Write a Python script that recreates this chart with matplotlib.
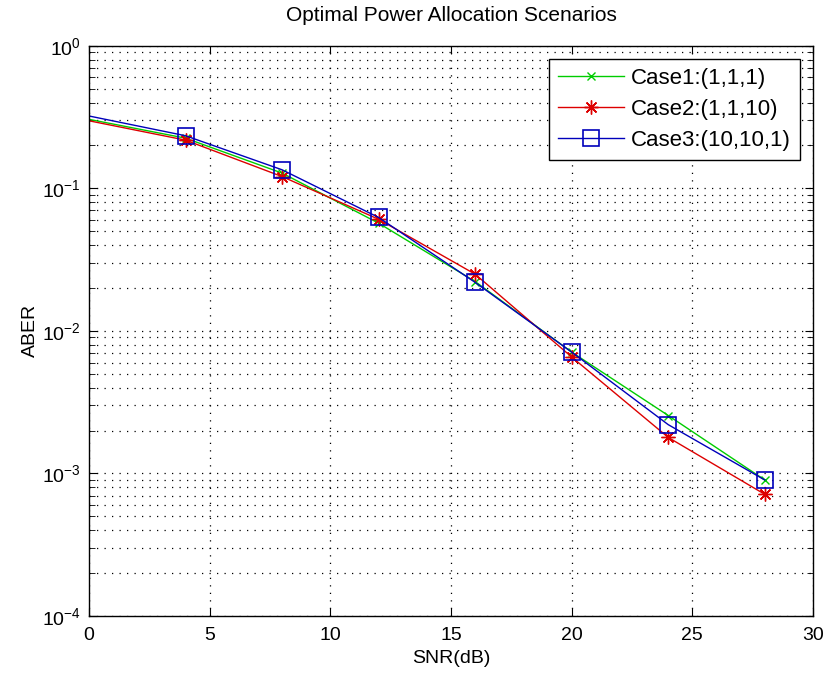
import matplotlib
matplotlib.use("Agg")
import matplotlib.pyplot as plt
from matplotlib.ticker import LogLocator, MultipleLocator, NullFormatter

plt.rcParams['font.family'] = ['Liberation Sans', 'DejaVu Sans']
plt.rcParams['mathtext.fontset'] = 'custom'
plt.rcParams['mathtext.rm'] = 'Liberation Sans'

snr_db = [0, 4, 8, 12, 16, 20, 24, 28]
case1 = [0.305, 0.225, 0.128, 0.057, 0.0222, 0.0071, 0.00255, 0.00090]
case2 = [0.298, 0.218, 0.121, 0.0607, 0.0250, 0.00656, 0.00179, 0.000714]
case3 = [0.322, 0.234, 0.135, 0.0625, 0.0219, 0.0071, 0.00220, 0.00090]
labels = ['Case1:(1,1,1)', 'Case2:(1,1,10)', 'Case3:(10,10,1)']

fig = plt.figure(figsize=(8.25, 6.75), dpi=100)
ax = fig.add_axes([0.1079, 0.0874, 0.8776, 0.8447])

ax.semilogy(snr_db, case1, color='#00cc00', marker='x', markersize=6,
            linewidth=1.0, markevery=slice(1, None), label=labels[0])
ax.semilogy(snr_db, case2, color='#dd0000', marker=(8, 2, 0), markersize=10,
            markeredgewidth=1.0, linewidth=1.0, markevery=slice(1, None),
            label=labels[1])
ax.semilogy(snr_db, case3, color='#0000bb', marker='s', markersize=11,
            markerfacecolor='none', markeredgewidth=1.2, linewidth=1.0,
            markevery=slice(1, None), label=labels[2])

ax.set_xlim(0, 30)
ax.set_ylim(1e-4, 1e0)
ax.xaxis.set_major_locator(MultipleLocator(5))
ax.yaxis.set_major_locator(LogLocator(base=10, numticks=10))
ax.yaxis.set_minor_locator(LogLocator(base=10, subs=range(2, 10), numticks=20))
ax.yaxis.set_minor_formatter(NullFormatter())

ax.grid(True, which='major', linestyle=(0, (1, 5)), color='black', linewidth=0.9)
ax.grid(True, which='minor', axis='y', linestyle=(0, (1, 5)), color='black', linewidth=0.9)

ax.tick_params(which='both', direction='in', top=True, right=True, labelsize=14)
ax.tick_params(axis='x', pad=8)
ax.tick_params(axis='y', pad=6)
ax.tick_params(which='major', length=6)
ax.tick_params(which='minor', length=4)
for s in ax.spines.values():
    s.set_linewidth(1.0)

ax.set_xlabel('SNR(dB)', fontsize=14, labelpad=4)
ax.set_ylabel('ABER', fontsize=14, labelpad=2)
ax.set_title('Optimal Power Allocation Scenarios', fontsize=15, pad=18)

leg = ax.legend(loc='upper right', fontsize=16, fancybox=False, framealpha=1,
                edgecolor='black', handlelength=3.0, borderaxespad=0.6,
                labelspacing=0.45, handletextpad=0.3, borderpad=0.4)
leg.get_frame().set_linewidth(1.0)

fig.savefig('out.png', dpi=100)
